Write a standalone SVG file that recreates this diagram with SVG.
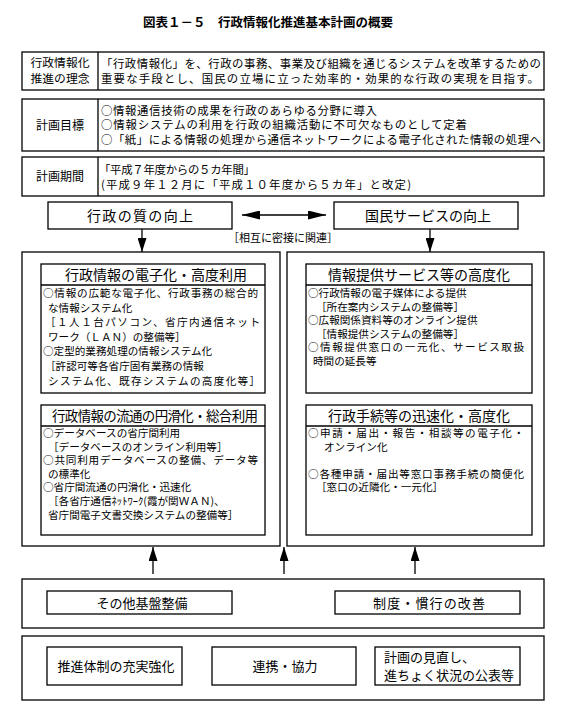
<svg xmlns="http://www.w3.org/2000/svg" width="575" height="718" viewBox="0 0 575 718">
<style>
text{font-family:"Noto Sans CJK JP","Noto Sans CJK SC",sans-serif;fill:#000}
.box{fill:#fff;stroke:#000;stroke-width:1.3}
.ln{stroke:#000;stroke-width:1.3;fill:none}
.title{font-size:12.5px;font-weight:bold;text-anchor:middle}
.lab{font-size:12px;text-anchor:middle}
.b{font-size:11.4px}
.big{font-size:14px;text-anchor:middle}
.s{font-size:10.6px}
.m{font-size:13px;text-anchor:middle}
.note{font-size:11px;text-anchor:middle}
</style>
<defs>
<marker id="ah" viewBox="0 0 14 9" refX="14" refY="4.5" markerWidth="14" markerHeight="9" markerUnits="userSpaceOnUse" orient="auto-start-reverse"><path d="M0,0 L14,4.5 L0,9 z" fill="#000"/></marker>
<marker id="ah2" viewBox="0 0 18 9" refX="18" refY="4.5" markerWidth="18" markerHeight="9" markerUnits="userSpaceOnUse" orient="auto-start-reverse"><path d="M0,0 L18,4.5 L0,9 z" fill="#000"/></marker>
</defs>
<rect width="575" height="718" fill="#fff"/>
<text class="title" x="268" y="27">図表１－５　行政情報化推進基本計画の概要</text>

<g id="rinen">
<rect class="box" x="22" y="52" width="522" height="38"/>
<line class="ln" x1="98" y1="52" x2="98" y2="90"/>
<text class="lab" x="60" y="66.6" style="font-size:11.8px">行政情報化</text>
<text class="lab" x="60" y="82.8" style="font-size:11.8px">推進の理念</text>
<text class="b" x="101" y="67.8" textLength="440" lengthAdjust="spacing">「行政情報化」を、行政の事務、事業及び組織を通じるシステムを改革するための</text>
<text class="b" x="101" y="82.5" textLength="438" lengthAdjust="spacing">重要な手段とし、国民の立場に立った効率的・効果的な行政の実現を目指す。</text>
</g>

<g id="mokuhyo">
<rect class="box" x="22" y="99" width="522" height="52"/>
<line class="ln" x1="98" y1="99" x2="98" y2="151"/>
<text class="lab" x="60" y="130">計画目標</text>
<text class="b" x="101" y="114.5" textLength="276" lengthAdjust="spacing">○情報通信技術の成果を行政のあらゆる分野に導入</text>
<text class="b" x="101" y="129" textLength="366" lengthAdjust="spacing">○情報システムの利用を行政の組織活動に不可欠なものとして定着</text>
<text class="b" x="101" y="143.5" textLength="440" lengthAdjust="spacing">○「紙」による情報の処理から通信ネットワークによる電子化された情報の処理へ</text>
</g>

<g id="kikan">
<rect class="box" x="22" y="157" width="522" height="39"/>
<line class="ln" x1="98" y1="157" x2="98" y2="196"/>
<text class="lab" x="60" y="181">計画期間</text>
<text class="b" x="99" y="174" textLength="156" lengthAdjust="spacing">「平成７年度からの５カ年間」</text>
<text class="b" x="101" y="188.5" textLength="310" lengthAdjust="spacing">(平成９年１２月に「平成１０年度から５カ年」と改定)</text>
</g>

<g id="shitsu">
<rect class="box" x="48" y="202" width="184" height="27"/>
<text class="big" x="140" y="221" textLength="106" lengthAdjust="spacing">行政の質の向上</text>
</g>
<g id="kokumin">
<rect class="box" x="334" y="202" width="184" height="27"/>
<text class="big" x="428" y="221">国民サービスの向上</text>
</g>
<text class="note" x="283" y="242">［相互に密接に関連］</text>

<g id="connectors">
<line class="ln" x1="242" y1="215" x2="326" y2="215" marker-start="url(#ah2)" marker-end="url(#ah2)"/>
<line class="ln" x1="142" y1="229" x2="142" y2="252" marker-end="url(#ah)"/>
<line class="ln" x1="430" y1="229" x2="430" y2="252" marker-end="url(#ah)"/>
<line class="ln" x1="153" y1="574" x2="153" y2="547" marker-end="url(#ah)"/>
<line class="ln" x1="284" y1="574" x2="284" y2="547" marker-end="url(#ah)"/>
<line class="ln" x1="415" y1="574" x2="415" y2="547" marker-end="url(#ah)"/>
</g>

<g id="left-outer">
<rect class="box" x="22" y="252" width="258" height="294"/>
</g>
<g id="right-outer">
<rect class="box" x="287" y="252" width="257" height="294"/>
</g>

<g id="denshika">
<rect class="box" x="41" y="264" width="224" height="129"/>
<line class="ln" x1="41" y1="285" x2="265" y2="285"/>
<text class="big" x="156" y="279.8">行政情報の電子化・高度利用</text>
<text class="s" x="43" y="297" textLength="215" lengthAdjust="spacing">○情報の広範な電子化、行政事務の総合的</text>
<text class="s" x="48" y="311.6">な情報システム化</text>
<text class="s" x="45" y="326.2" textLength="215" lengthAdjust="spacing">［１人１台パソコン、省庁内通信ネット</text>
<text class="s" x="48" y="340.8">ワーク（ＬＡＮ）の整備等］</text>
<text class="s" x="43" y="355.4">○定型的業務処理の情報システム化</text>
<text class="s" x="45" y="370">［許認可等各省庁固有業務の情報</text>
<text class="s" x="48" y="384.6" textLength="212" lengthAdjust="spacing">システム化、既存システムの高度化等］</text>
</g>

<g id="ryutsu">
<rect class="box" x="41" y="405" width="224" height="130"/>
<line class="ln" x1="41" y1="426" x2="265" y2="426"/>
<text class="big" x="155" y="420.6" style="font-size:13.5px" textLength="206" lengthAdjust="spacing">行政情報の流通の円滑化・総合利用</text>
<text class="s" x="43" y="437">○データベースの省庁間利用</text>
<text class="s" x="48" y="450.6">［データベースのオンライン利用等］</text>
<text class="s" x="43" y="464.2" textLength="215" lengthAdjust="spacing">○共同利用データベースの整備、データ等</text>
<text class="s" x="48" y="477.8">の標準化</text>
<text class="s" x="43" y="491.4">○省庁間流通の円滑化・迅速化</text>
<text class="s" x="48" y="505">［各省庁通信ﾈｯﾄﾜｰｸ(霞が関ＷＡＮ)、</text>
<text class="s" x="48" y="518.6">省庁間電子文書交換システムの整備等］</text>
</g>

<g id="teikyo">
<rect class="box" x="306" y="264" width="226" height="129"/>
<line class="ln" x1="306" y1="285" x2="532" y2="285"/>
<text class="big" x="419" y="279.8">情報提供サービス等の高度化</text>
<text class="s" x="308" y="297">○行政情報の電子媒体による提供</text>
<text class="s" x="316" y="310.6">［所在案内システムの整備等］</text>
<text class="s" x="308" y="324.2">○広報関係資料等のオンライン提供</text>
<text class="s" x="316" y="337.8">［情報提供システムの整備等］</text>
<text class="s" x="308" y="351.4" textLength="216" lengthAdjust="spacing">○情報提供窓口の一元化、サービス取扱</text>
<text class="s" x="313" y="365">時間の延長等</text>
</g>

<g id="tetsuzuki">
<rect class="box" x="306" y="405" width="226" height="130"/>
<line class="ln" x1="306" y1="426" x2="532" y2="426"/>
<text class="big" x="419" y="420.6">行政手続等の迅速化・高度化</text>
<text class="s" x="308" y="437" textLength="216" lengthAdjust="spacing">○申請・届出・報告・相談等の電子化・</text>
<text class="s" x="324" y="450.6">オンライン化</text>
<text class="s" x="308" y="477.8" textLength="216" lengthAdjust="spacing">○各種申請・届出等窓口事務手続の簡便化</text>
<text class="s" x="316" y="491.4">［窓口の近隣化・一元化］</text>
</g>

<g id="middle-band">
<rect class="box" x="22" y="579" width="522" height="49"/>
</g>
<g id="kiban">
<rect class="box" x="47" y="591" width="185" height="23"/>
<text class="m" x="142" y="607.5">その他基盤整備</text>
</g>
<g id="seido">
<rect class="box" x="335" y="591" width="185" height="23"/>
<text class="m" x="429" y="607.5" textLength="112" lengthAdjust="spacing">制度・慣行の改善</text>
</g>

<g id="bottom-band">
<rect class="box" x="22" y="636" width="522" height="64"/>
</g>
<g id="suishin">
<rect class="box" x="47" y="647" width="135" height="38"/>
<text class="m" x="116" y="671">推進体制の充実強化</text>
</g>
<g id="renkei">
<rect class="box" x="212" y="647" width="144" height="38"/>
<text class="m" x="285" y="671">連携・協力</text>
</g>
<g id="minaoshi">
<rect class="box" x="375" y="647" width="145" height="38"/>
<text class="m" x="384" y="662" style="text-anchor:start">計画の見直し、</text>
<text class="m" x="384" y="680" style="text-anchor:start">進ちょく状況の公表等</text>
</g>
</svg>
